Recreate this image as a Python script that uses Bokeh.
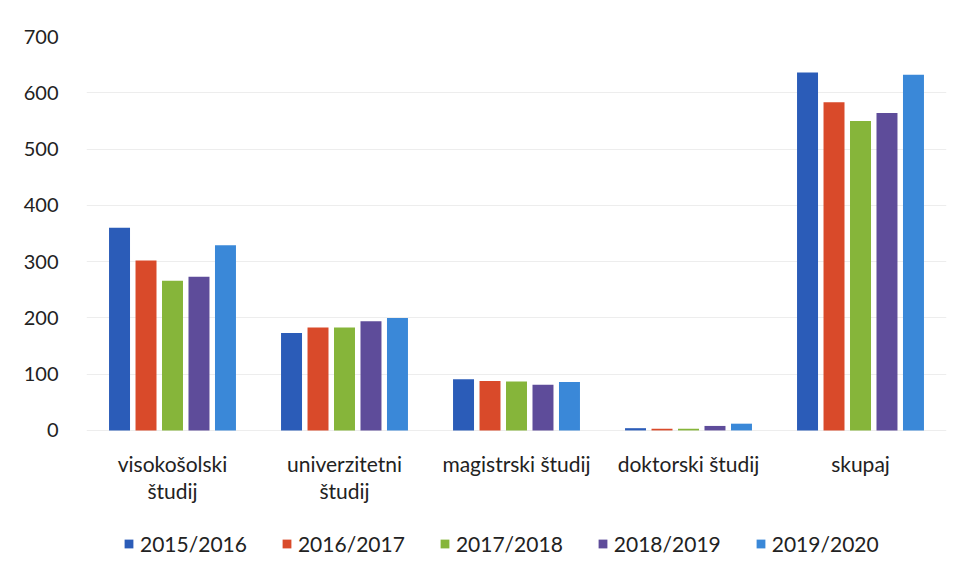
from bokeh.plotting import figure
from bokeh.models import ColumnDataSource, Legend, LegendItem, FactorRange
from bokeh.transform import dodge
from bokeh.core.properties import value
from bokeh.embed import file_html
from bokeh.resources import INLINE

categories = ["visokošolski študij", "univerzitetni študij", "magistrski študij", "doktorski študij", "skupaj"]
line1 = ["visokošolski", "univerzitetni", "magistrski študij", "doktorski študij", "skupaj"]
line2 = ["študij", "študij", "", "", ""]
years = ["2015/2016", "2016/2017", "2017/2018", "2018/2019", "2019/2020"]
v2015 = [360, 173, 91, 4, 636]
v2016 = [302, 183, 88, 3, 583]
v2017 = [266, 183, 87, 3, 550]
v2018 = [273, 194, 81, 8, 564]
v2019 = [329, 200, 86, 12, 632]
colors = ["#2B5CB8", "#D94A2A", "#86B53A", "#5E4C9A", "#3A88D8"]
yticks = [0, 100, 200, 300, 400, 500, 600, 700]

series = [v2015, v2016, v2017, v2018, v2019]
data = {"cat": categories, "l1": line1, "l2": line2}
for y, s in zip(years, series):
    data[y] = s
src = ColumnDataSource(data)

FONT = "Lato"
p = figure(x_range=FactorRange(*categories), y_range=(-240, 700), width=954, height=565,
           output_backend="svg", toolbar_location=None, x_axis_location=None,
           min_border_left=86, min_border_right=8, min_border_top=36, min_border_bottom=0)
p.outline_line_color = None

pitch = 0.154
renderers = []
for i, (y, c) in enumerate(zip(years, colors)):
    r = p.vbar(x=dodge("cat", (i - 2) * pitch, range=p.x_range), top=y, width=0.122,
               source=src, color=c, line_color=None)
    renderers.append(r)

p.text(x="cat", y=-59, text="l1", source=src, text_align="center", text_baseline="middle",
       text_font=value(FONT), text_font_size="21px", text_color="#222222")
p.text(x="cat", y=-107, text="l2", source=src, text_align="center", text_baseline="middle",
       text_font=value(FONT), text_font_size="21px", text_color="#222222")

p.xgrid.grid_line_color = None
p.ygrid.grid_line_color = "#EDEDED"
p.ygrid.grid_line_width = 1
p.yaxis.ticker = yticks
p.yaxis.axis_line_color = None
p.yaxis.major_tick_line_color = None
p.yaxis.minor_tick_line_color = None
p.yaxis.major_label_text_font = FONT
p.yaxis.major_label_text_font_size = "20px"
p.yaxis.major_label_text_color = "#222222"
p.yaxis.major_label_standoff = 22

legend = Legend(items=[LegendItem(label=y, renderers=[r]) for y, r in zip(years, renderers)],
                orientation="horizontal", location=(37, 9))
legend.label_text_font = FONT
legend.label_text_font_size = "21px"
legend.label_text_color = "#222222"
legend.glyph_width = 11
legend.glyph_height = 11
legend.label_standoff = 6
legend.spacing = 34
legend.border_line_color = None
legend.background_fill_alpha = 0
legend.padding = 0
legend.margin = 0
p.add_layout(legend)

open("out.html", "w").write(file_html(p, INLINE))
